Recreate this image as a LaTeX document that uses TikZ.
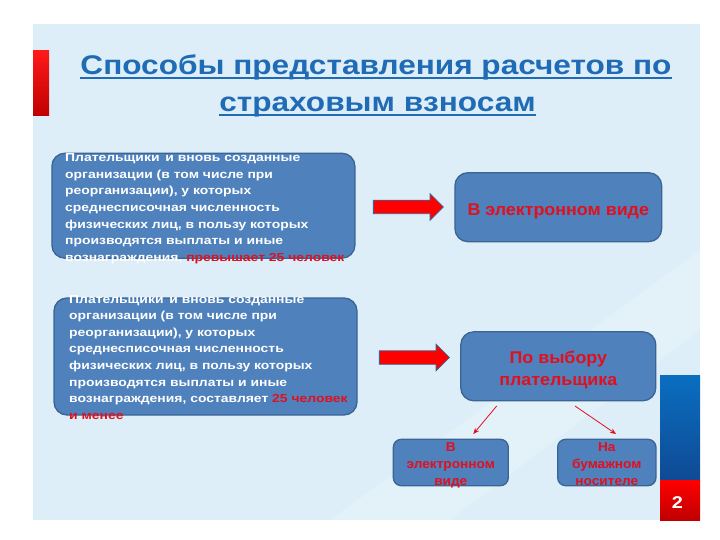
\documentclass[tikz,border=0pt]{standalone}
\usepackage{fontspec}
\setmainfont{Liberation Sans}
\newfontfamily\titlefont[FakeStretch=1.17]{Liberation Sans}
\newfontfamily\bodyfont[FakeStretch=1.2]{Liberation Sans}
\newfontfamily\labelfont[FakeStretch=1.05]{Liberation Sans}
\usetikzlibrary{arrows.meta,shapes.arrows}
\definecolor{panel}{HTML}{DDEEF8}
\definecolor{panellight}{HTML}{E8F4FB}
\definecolor{boxfill}{HTML}{4F81BD}
\definecolor{boxline}{HTML}{3B6494}
\definecolor{titleblue}{HTML}{1F6BB5}
\definecolor{redtxt}{HTML}{E0101E}
\definecolor{barblue}{HTML}{0A6EC0}
\definecolor{barbluedark}{HTML}{0F4A94}
\begin{document}
\begin{tikzpicture}[x=1pt,y=-1pt,
  bluebox/.style={draw=boxline, line width=1.3pt, fill=boxfill, rounded corners=13pt, inner sep=0pt},
  smallbox/.style={draw=boxline, line width=1.3pt, fill=boxfill, rounded corners=8pt, inner sep=0pt},
  bodytext/.style={text=white, font=\bodyfont\bfseries\fontsize{11.6}{16.6}\selectfont, align=left, inner sep=0pt, anchor=base west},
  redlabel/.style={text=redtxt, font=\labelfont\bfseries\fontsize{17}{21.7}\selectfont, align=center, inner sep=0pt},
  smalllabel/.style={text=redtxt, font=\labelfont\bfseries\fontsize{13}{16.7}\selectfont, align=center, inner sep=0pt},
  blockarrow/.style={single arrow, fill=red, draw=boxline, line width=0.8pt, text height=6.35pt, text depth=6.35pt, single arrow head extend=6.5pt, minimum height=70pt, inner sep=0pt},
  thinarrow/.style={draw=redtxt, line width=0.8pt, -{Stealth[length=6pt,width=5pt]}},
  titletext/.style={text=titleblue, font=\titlefont\bfseries\fontsize{27}{35}\selectfont, inner sep=0pt}
]
\useasboundingbox (0,0) rectangle (720,540);
\fill[white] (0,0) rectangle (720,540);
\fill[panel] (33,24) rectangle (700,520);
\fill[panellight, opacity=0.6] (330,520) -- (700,250) -- (700,330) -- (450,520) -- cycle;
% left red bar
\shade[top color=red!90!white, bottom color=red!75!black] (33,51) rectangle (49,116);
% right bar
\shade[top color=barblue, bottom color=barbluedark] (660,375) rectangle (700,480);
\shade[top color=red, bottom color=red!75!black] (660,480) rectangle (700,520);
\node[text=white, font=\titlefont\bfseries\fontsize{17}{20}\selectfont, inner sep=0pt] (num) at (677.5,502.5) {2};

% title
\node[titletext, anchor=base] (title1) at (376,74.3) {Способы представления расчетов по};
\node[titletext, anchor=base] (title2) at (377.5,111.7) {страховым взносам};
\draw[titleblue, line width=2pt] ([yshift=-3.3pt]title1.base west) -- ([yshift=-3.3pt]title1.base east);
\draw[titleblue, line width=2pt] ([yshift=-3.3pt]title2.base west) -- ([yshift=-3.3pt]title2.base east);

% left boxes
\node[bluebox, minimum width=303pt, minimum height=105pt] (box1) at (203.4,205.7) {};
\node[bodytext] (text1) at (65,261.3) {Плательщики\, и вновь созданные\\организации (в том числе при\\реорганизации), у которых\\среднесписочная численность\\физических лиц, в пользу которых\\производятся выплаты и иные\\вознаграждения, \textcolor{redtxt}{превышает 25 человек}};

\node[bluebox, minimum width=303pt, minimum height=117pt] (box2) at (205.5,356.5) {};
\node[bodytext] (text2) at (69,419.2) {Плательщики\, и вновь созданные\\организации (в том числе при\\реорганизации), у которых\\среднесписочная численность\\физических лиц, в пользу которых\\производятся выплаты и иные\\вознаграждения, составляет \textcolor{redtxt}{25 человек}\\\textcolor{redtxt}{и менее}};

% block arrows
\node[blockarrow] (arrow1) at (405,207) {};
\node[blockarrow] (arrow2) at (411,357.5) {};

% right boxes
\node[bluebox, minimum width=206.7pt, minimum height=69pt] (elec) at (558.3,207.2) {};
\node[redlabel, anchor=base] (elect) at (558.3,215) {В электронном виде};

\node[bluebox, minimum width=195pt, minimum height=69pt] (choice) at (558.3,366.3) {};
\node[redlabel, anchor=base] (choicet1) at (558.3,363.3) {По выбору};
\node[redlabel, anchor=base] (choicet2) at (558.3,385) {плательщика};

\node[smallbox, minimum width=115pt, minimum height=46.4pt] (opt1) at (450.8,462.5) {};
\node[smallbox, minimum width=98.3pt, minimum height=46.4pt] (opt2) at (606.8,462.5) {};
\node[smalllabel, anchor=base] (opt1a) at (450.8,451.7) {В};
\node[smalllabel, anchor=base] (opt1b) at (450.8,468.3) {электронном};
\node[smalllabel, anchor=base] (opt1c) at (450.8,485) {виде};
\node[smalllabel, anchor=base] (opt2a) at (606.8,451.7) {На};
\node[smalllabel, anchor=base] (opt2b) at (606.8,468.3) {бумажном};
\node[smalllabel, anchor=base] (opt2c) at (606.8,485) {носителе};

\coordinate (s1) at (496.7,406);
\coordinate (e1) at (473.3,434);
\coordinate (s2) at (575,406);
\coordinate (e2) at (616,434);
\draw[thinarrow] (s1) -- (e1);
\draw[thinarrow] (s2) -- (e2);
\end{tikzpicture}
\end{document}
